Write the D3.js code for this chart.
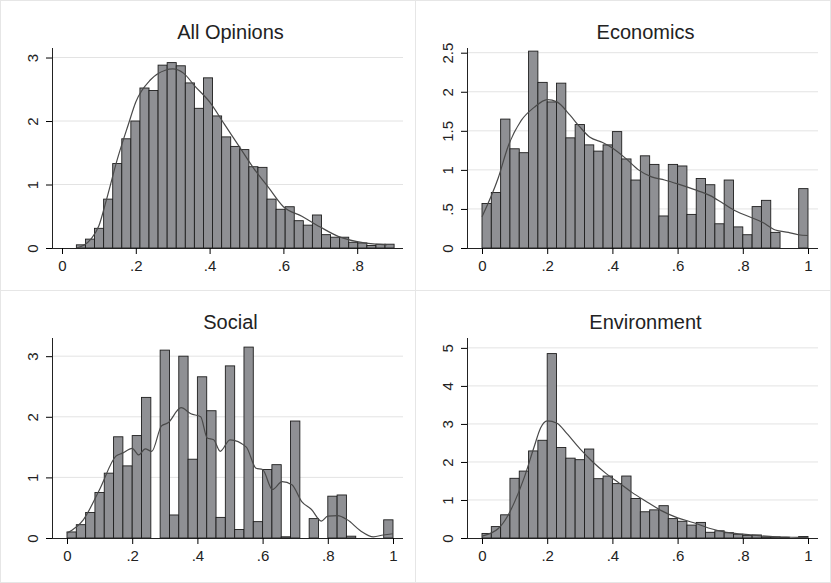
<!DOCTYPE html>
<html>
<head>
<meta charset="utf-8">
<script src="https://cdn.jsdelivr.net/npm/d3@7"></script>
<style>
  body { margin: 0; background: #fff; }
  text { font-family: "Liberation Sans", Arial, sans-serif; fill: #222; }
</style>
</head>
<body>
<svg class="chart"></svg>
<script>
var width = 831,
    height = 583;

var titles = ["All Opinions", "Economics", "Social", "Environment"];

// bar heights (density), bins left to right
var allBins = [0.05, 0.14, 0.31, 0.77, 1.33, 1.72, 2.0, 2.52, 2.48, 2.88, 2.92, 2.87, 2.6, 2.2, 2.68, 2.08,
  1.75, 1.6, 1.55, 1.28, 1.27, 0.77, 0.61, 0.65, 0.43, 0.36, 0.52, 0.21, 0.17, 0.17, 0.09, 0.08, 0.04, 0.06, 0.06];
var econBins = [0.57, 0.71, 1.65, 1.27, 1.22, 2.52, 2.12, 1.87, 2.11, 1.41, 1.58, 1.32, 1.24, 1.32, 1.49, 1.14,
  0.87, 1.18, 1.07, 0.41, 1.07, 1.05, 0.43, 0.89, 0.81, 0.31, 0.87, 0.27, 0.17, 0.53, 0.61, 0.2, 0, 0, 0.76];
var socialBins = [0.1, 0.22, 0.42, 0.75, 1.07, 1.67, 1.19, 1.69, 2.32, 0, 3.1, 0.38, 3.0, 1.3, 2.66, 2.1,
  0.34, 2.84, 0.14, 3.15, 0.27, 1.13, 1.21, 0.02, 1.93, 0, 0.32, 0, 0.69, 0.71, 0.03, 0, 0, 0, 0.3];
var envBins = [0.12, 0.3, 0.61, 1.57, 1.76, 2.29, 2.57, 4.85, 2.38, 2.1, 2.06, 2.34, 1.56, 1.63, 1.43, 1.63,
  1.04, 0.69, 0.74, 0.85, 0.51, 0.44, 0.34, 0.41, 0.15, 0.19, 0.14, 0.1, 0.07, 0.08, 0.03, 0.03, 0.02, 0, 0.04];

// bin start and width per panel
var binStart = [0.039, 0, 0, 0];
var binWidth = [0.0246, 1 / 35, 1 / 35, 1 / 35];

// kernel density curves [x, y]
var allKde = [[0.04,0],[0.08,0.15],[0.1,0.35],[0.12,0.75],[0.15,1.4],[0.18,1.95],[0.2,2.3],[0.24,2.65],[0.28,2.8],
  [0.3,2.82],[0.33,2.75],[0.36,2.55],[0.4,2.3],[0.44,1.95],[0.48,1.6],[0.52,1.25],[0.56,0.95],[0.6,0.65],
  [0.65,0.5],[0.7,0.33],[0.75,0.18],[0.8,0.1],[0.85,0.06],[0.88,0.05]];
var econKde = [[0,0.4],[0.05,0.9],[0.08,1.3],[0.12,1.63],[0.16,1.8],[0.2,1.9],[0.23,1.87],[0.27,1.7],[0.3,1.55],
  [0.33,1.42],[0.37,1.35],[0.4,1.28],[0.44,1.15],[0.48,1.0],[0.52,0.91],[0.56,0.87],[0.6,0.82],[0.65,0.75],
  [0.7,0.67],[0.74,0.57],[0.78,0.47],[0.82,0.4],[0.86,0.33],[0.9,0.23],[0.94,0.2],[0.97,0.17],[1.0,0.16]];
var socialKde = [[0,0.08],[0.05,0.3],[0.1,0.8],[0.15,1.35],[0.17,1.4],[0.2,1.48],[0.22,1.37],[0.24,1.47],[0.26,1.43],
  [0.29,1.85],[0.31,1.9],[0.35,2.15],[0.38,2.05],[0.41,2.0],[0.43,1.65],[0.45,1.62],[0.47,1.43],[0.5,1.62],
  [0.55,1.5],[0.58,1.15],[0.6,1.13],[0.63,0.8],[0.66,0.93],[0.69,0.88],[0.72,0.6],[0.75,0.47],[0.78,0.28],
  [0.8,0.36],[0.83,0.37],[0.86,0.3],[0.9,0.12],[0.94,0.02],[0.97,0.05],[1.0,0.07]];
var envKde = [[0,0.05],[0.05,0.25],[0.08,0.6],[0.1,0.95],[0.13,1.6],[0.16,2.4],[0.18,2.9],[0.2,3.08],[0.23,3.02],
  [0.26,2.75],[0.3,2.35],[0.34,2.0],[0.38,1.7],[0.42,1.45],[0.46,1.2],[0.5,0.98],[0.55,0.72],[0.6,0.53],
  [0.65,0.4],[0.7,0.25],[0.75,0.15],[0.8,0.1],[0.85,0.06],[0.9,0.03],[0.95,0.02],[1.0,0.01]];

var xTicks = [[0, 0.2, 0.4, 0.6, 0.8], [0, 0.2, 0.4, 0.6, 0.8, 1], [0, 0.2, 0.4, 0.6, 0.8, 1], [0, 0.2, 0.4, 0.6, 0.8, 1]];
var yTicks = [[0, 1, 2, 3], [0, 0.5, 1, 1.5, 2, 2.5], [0, 1, 2, 3], [0, 1, 2, 3, 4, 5]];
var yMax = [3.15, 2.56, 3.3, 5.26];

var bins = [allBins, econBins, socialBins, envBins];
var kdes = [allKde, econKde, socialKde, envKde];

// layout
var origins = [[0, 0], [415, 0], [0, 290], [415, 290]];
var plotLeft = 52, plotRight = 403, plotTop = 48, plotBottom = 248;
var xZero = [62, 67, 67, 67], xUnit = [369, 326, 326, 326];

function fmt(v) {
  var s = d3.format("~g")(+v.toFixed(2));
  return s.replace(/^0\./, ".");
}

var svg = d3.select(".chart")
    .attr("width", width)
    .attr("height", height);

svg.append("rect").attr("x", 0.5).attr("y", 0.5).attr("width", width - 1).attr("height", height - 1)
    .attr("fill", "none").attr("stroke", "#e6e6e6");
svg.append("line").attr("x1", 415.5).attr("x2", 415.5).attr("y1", 0).attr("y2", height).attr("stroke", "#e6e6e6");
svg.append("line").attr("x1", 0).attr("x2", width).attr("y1", 290.5).attr("y2", 290.5).attr("stroke", "#e6e6e6");

titles.forEach(function(title, i) {
  var g = svg.append("g")
      .attr("transform", "translate(" + origins[i][0] + "," + origins[i][1] + ")");

  var x = d3.scaleLinear()
      .domain([0, 1])
      .range([xZero[i], xZero[i] + xUnit[i]]);
  var y = d3.scaleLinear()
      .domain([0, yMax[i]])
      .range([plotBottom, plotTop]);

  g.append("text")
      .attr("x", (plotLeft + plotRight) / 2 + 3)
      .attr("y", 39)
      .attr("text-anchor", "middle")
      .style("font-size", "20px")
      .text(title);

  // grid
  g.selectAll(".grid")
      .data(yTicks[i].slice(1))
    .enter().append("line")
      .attr("x1", plotLeft).attr("x2", plotRight)
      .attr("y1", function(d) { return y(d); })
      .attr("y2", function(d) { return y(d); })
      .attr("stroke", "#e3e3e3")
      .attr("stroke-width", 1);

  // bars
  var data = bins[i].map(function(v, k) { return { x0: binStart[i] + k * binWidth[i], v: v }; });
  g.selectAll(".bar")
      .data(data.filter(function(d) { return d.v > 0; }))
    .enter().append("rect")
      .attr("x", function(d) { return x(d.x0); })
      .attr("width", function(d) { return x(d.x0 + binWidth[i]) - x(d.x0); })
      .attr("y", function(d) { return y(d.v); })
      .attr("height", function(d) { return y(0) - y(d.v); })
      .attr("fill", "#8f9094")
      .attr("stroke", "#1e1e1e")
      .attr("stroke-width", 0.9);

  // density curve
  g.append("path")
      .datum(kdes[i])
      .attr("d", d3.line()
          .x(function(d) { return x(d[0]); })
          .y(function(d) { return y(d[1]); })
          .curve(d3.curveMonotoneX))
      .attr("fill", "none")
      .attr("stroke", "#4a4a4a")
      .attr("stroke-width", 1.2);

  // axes
  var xAxis = g.append("g")
      .attr("transform", "translate(0," + plotBottom + ")")
      .call(d3.axisBottom(x).tickValues(xTicks[i]).tickFormat(fmt).tickSize(6).tickSizeOuter(0));
  xAxis.select(".domain").attr("d", "M" + plotLeft + ",0.5H" + plotRight).attr("stroke", "#222");
  xAxis.selectAll("text").style("font-size", "15px").attr("dy", "0.95em");

  var yAxis = g.append("g")
      .attr("transform", "translate(" + plotLeft + ",0)")
      .call(d3.axisLeft(y).tickValues(yTicks[i]).tickFormat(fmt).tickSize(6).tickSizeOuter(0));
  yAxis.select(".domain").attr("d", "M0.5," + plotTop + "V" + plotBottom).attr("stroke", "#222");
  yAxis.selectAll(".tick text")
      .style("font-size", "15px")
      .attr("text-anchor", "middle")
      .attr("x", 0).attr("dy", 0)
      .attr("transform", "translate(-19,0) rotate(-90)")
      .attr("y", 5);
});
</script>
</body>
</html>
